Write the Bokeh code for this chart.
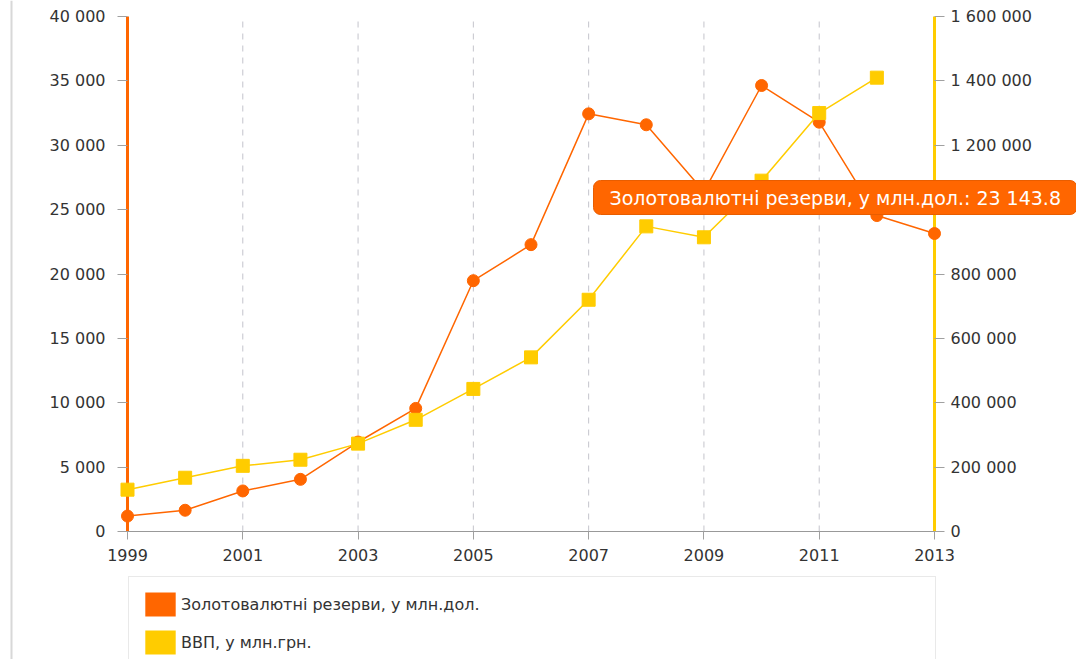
from bokeh.plotting import figure
from bokeh.models import (Range1d, LinearAxis, FixedTicker, CustomJSTickFormatter,
                          Span, Label, Legend, LegendItem)
from bokeh.embed import file_html
from bokeh.resources import INLINE
import math

# ---- data ----
years = [1999, 2000, 2001, 2002, 2003, 2004, 2005, 2006, 2007, 2008, 2009, 2010, 2011, 2012, 2013]
reserves = [1200, 1650, 3150, 4050, 6950, 9560, 19480, 22280, 32440, 31590, 26400, 34640, 31790, 24540, 23143.8]
gdp = [130000, 167000, 204000, 223000, 273000, 347000, 443000, 541000, 720000, 948000,
       914000, 1090000, 1300000, 1410000, float("nan")]
x_ticks = [1999, 2001, 2003, 2005, 2007, 2009, 2011, 2013]
left_ticks = list(range(0, 40001, 5000))
right_ticks = list(range(0, 1600001, 200000))
left_max = 40000
right_max = 1600000
name_reserves = "Золотовалютні резерви, у млн.дол."
name_gdp = "ВВП, у млн.грн."
hover_index = 14

ORANGE = "#FF6600"
YELLOW = "#FFCC00"
FONT = "DejaVu Sans"
NAN = float("nan")

# ---- layout (pixels) ----
W, H = 1076, 659
PX_X0, PX_X1 = 127, 934      # where the first / last year sit
PX_YTOP, PX_Y0 = 16, 531     # where the top value / zero sit

ppx = (PX_X1 - PX_X0) / (years[-1] - years[0])
x_start = years[0] - PX_X0 / ppx
x_end = years[-1] + (W - PX_X1) / ppx
ppy = (PX_Y0 - PX_YTOP) / left_max
y_start = -(H - PX_Y0) / ppy
y_end = left_max + PX_YTOP / ppy
k = right_max / left_max

p = figure(width=W, height=H, output_backend="svg", toolbar_location=None,
           x_range=Range1d(x_start, x_end), y_range=Range1d(y_start, y_end),
           min_border=0, x_axis_type=None, y_axis_type=None)
p.outline_line_color = None
p.extra_y_ranges = {"gdp": Range1d(y_start * k, y_end * k)}
p.xgrid.visible = False
p.ygrid.visible = False

fmt = CustomJSTickFormatter(code=r"""
var s = (Math.round(tick)).toString();
return s.replace(/\B(?=(\d{3})+(?!\d))/g, ' ');
""")

def style_axis(ax, line_color, line_width, tick_out, standoff):
    ax.axis_line_color = line_color
    ax.axis_line_width = line_width
    ax.major_tick_line_color = "#a0a0a0"
    ax.major_tick_out = tick_out
    ax.major_tick_in = 0
    ax.minor_tick_line_color = None
    ax.major_label_standoff = standoff
    ax.major_label_text_font = FONT
    ax.major_label_text_font_size = "16px"
    ax.major_label_text_color = "#333333"

# x axis (sits at zero)
xa = LinearAxis(ticker=FixedTicker(ticks=x_ticks), fixed_location=0,
                bounds=(years[0], years[-1]))
style_axis(xa, "#999999", 1, 8, 9)
p.add_layout(xa, "below")

# left axis (sits at the first year)
ya = LinearAxis(ticker=FixedTicker(ticks=left_ticks), formatter=fmt,
                fixed_location=years[0], bounds=(0, left_max))
style_axis(ya, ORANGE, 3, 10, 12)
ya.level = "underlay"
p.add_layout(ya, "left")

# right axis (sits at the last year)
ra = LinearAxis(y_range_name="gdp", ticker=FixedTicker(ticks=right_ticks), formatter=fmt,
                fixed_location=years[-1], bounds=(0, right_max))
style_axis(ra, YELLOW, 3, 10, 6)
ra.level = "underlay"
p.add_layout(ra, "right")

# dashed vertical grid lines at the inner ticks
inner = x_ticks[1:-1]
p.segment(x0=inner, y0=[0] * len(inner), x1=inner, y1=[left_max] * len(inner),
          line_color="#c4c4cc", line_dash="6 6", line_width=1, level="underlay")

# container border at the left
p.add_layout(Span(location=11, location_units="screen", dimension="height",
                  line_color="#d8d8d8", line_width=2))

# series
p.line(years, reserves, line_color=ORANGE, line_width=1.5)
p.scatter(years, reserves, marker="circle", size=12, fill_color=ORANGE, line_color=ORANGE)
p.line(years, gdp, line_color=YELLOW, line_width=1.5, y_range_name="gdp")
p.scatter(years, gdp, marker="square", size=13, fill_color=YELLOW, line_color=YELLOW,
          y_range_name="gdp")

# legend (square swatches, renderers that draw nothing in the plot)
r1 = p.rect(x=[NAN], y=[NAN], width=1, height=1, fill_color=ORANGE, line_color=None)
r2 = p.rect(x=[NAN], y=[NAN], width=1, height=1, fill_color=YELLOW, line_color=None)
legend = Legend(items=[LegendItem(label=name_reserves, renderers=[r1]),
                       LegendItem(label=name_gdp, renderers=[r2])],
                location=(128, H - 670), orientation="vertical",
                glyph_width=38, glyph_height=30, label_height=30, spacing=8,
                padding=12, margin=0, label_standoff=2, label_width=742,
                label_text_font=FONT, label_text_font_size="16px", label_text_color="#333333",
                border_line_color="#d4d4d4", border_line_width=1.5,
                background_fill_color="white", background_fill_alpha=1.0)
p.add_layout(legend, "center")

# tooltip
v = reserves[hover_index]
whole = int(math.floor(v))
frac = round((v - whole) * 10)
whole_s = "{:,}".format(whole).replace(",", " ")
tip_text = f"{name_reserves}: {whole_s}.{frac}"
tip = Label(x=593, y=H - 197, x_units="screen", y_units="screen", text=tip_text,
            text_align="left", text_baseline="middle",
            text_font=FONT, text_font_size="19px", text_color="white",
            background_fill_color=ORANGE, background_fill_alpha=1.0,
            border_line_color="#E85D00", border_line_width=1,
            border_radius=7, padding=dict(left=16, right=16, top=6, bottom=6))
p.add_layout(tip)

open("out.html", "w").write(file_html(p, INLINE))
